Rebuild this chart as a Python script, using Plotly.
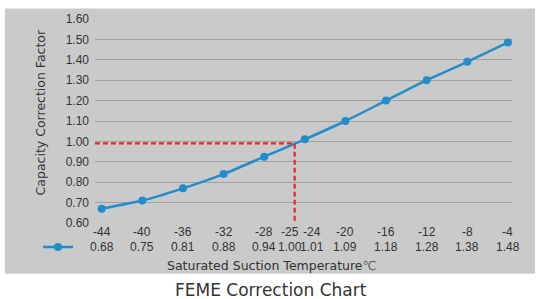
import plotly.graph_objects as go

# ---- data ----
temps = [-44, -40, -36, -32, -28, -24, -20, -16, -12, -8, -4]
curve_factor = [0.67, 0.71, 0.77, 0.84, 0.925, 1.01, 1.10, 1.20, 1.30, 1.39, 1.485]
table_temps = [-44, -40, -36, -32, -28, -25, -24, -20, -16, -12, -8, -4]
table_labels = ["-44", "-40", "-36", "-32", "-28", "-25", "-24", "-20", "-16", "-12", "-8", "-4"]
table_values = ["0.68", "0.75", "0.81", "0.88", "0.94", "1.00", "1.01", "1.09", "1.18", "1.28", "1.38", "1.48"]
ref_temp = -25
ref_factor = 0.99
y_ticks = [0.60, 0.70, 0.80, 0.90, 1.00, 1.10, 1.20, 1.30, 1.40, 1.50, 1.60]

X_RANGE = [-44.66, -3.6]
Y_RANGE = [0.60, 1.60]

BLUE = "#238dcc"
RED = "#e8262a"
BG = "#c9cac9"
GRID = "#a0a1a0"
TXT = "#333333"
FONT = "Liberation Sans, Arial, sans-serif"
WIDE = "DejaVu Sans, Verdana, sans-serif"

fig = go.Figure()

fig.add_trace(go.Scatter(
    x=temps, y=curve_factor, mode="lines+markers",
    line=dict(color=BLUE, width=2.5, shape="spline", smoothing=0.6),
    marker=dict(color=BLUE, size=8),
    name="", showlegend=True, hoverinfo="x+y",
))

# reference dashed lines
fig.add_trace(go.Scatter(
    x=[X_RANGE[0], ref_temp, ref_temp], y=[ref_factor, ref_factor, Y_RANGE[0]],
    mode="lines", line=dict(color=RED, width=2.2, dash="5px,3px"),
    showlegend=False, hoverinfo="skip", cliponaxis=False,
))

shapes = [dict(type="rect", xref="paper", yref="paper",
               x0=-0.216, x1=1.055, y0=-0.249, y1=1.052,
               fillcolor=BG, line=dict(width=0), layer="below")]

annotations = []
shift = {-25: -5, -24: 7}
for t, lab, val in zip(table_temps, table_labels, table_values):
    annotations.append(dict(x=t, y=-0.045, xref="x", yref="paper", text=lab,
                            showarrow=False, xshift=shift.get(t, 0),
                            font=dict(size=12, color=TXT, family=FONT),
                            xanchor="center", yanchor="middle"))
    annotations.append(dict(x=t, y=-0.118, xref="x", yref="paper", text=val,
                            showarrow=False, xshift=shift.get(t, 0),
                            font=dict(size=12, color=TXT, family=FONT),
                            xanchor="center", yanchor="middle"))

annotations.append(dict(x=(271.5 - 95) / 417, y=(222.7 - 266) / 206, xref="paper", yref="paper",
                        text="Saturated Suction Temperature<span style='color:#666'>℃</span>",
                        showarrow=False,
                        font=dict(size=12.5, color=TXT, family=WIDE),
                        xanchor="center", yanchor="middle"))
annotations.append(dict(x=(40 - 95) / 417, y=(222.7 - 111) / 206, xref="paper", yref="paper",
                        text="Capacity Correction Factor", showarrow=False, textangle=-90,
                        font=dict(size=12.5, color=TXT, family=WIDE),
                        xanchor="center", yanchor="middle"))
annotations.append(dict(x=(271 - 95) / 417, y=(222.7 - 290) / 206, xref="paper", yref="paper",
                        text="FEME Correction Chart", showarrow=False,
                        font=dict(size=17, color=TXT, family=WIDE),
                        xanchor="center", yanchor="middle"))

fig.update_layout(
    width=539, height=299,
    margin=dict(l=95, r=27, t=16.7, b=76.3, pad=0),
    paper_bgcolor="white", plot_bgcolor="rgba(0,0,0,0)",
    font=dict(family=FONT, color=TXT, size=12),
    shapes=shapes, annotations=annotations,
    showlegend=True,
    legend=dict(x=(38 - 95) / 417, y=(222.7 - 247) / 206, xanchor="left", yanchor="middle",
                bgcolor="rgba(0,0,0,0)", itemwidth=30, borderwidth=0,
                font=dict(size=1)),
    xaxis=dict(range=X_RANGE, showgrid=False, zeroline=False, showticklabels=False,
               showline=False, ticks="", fixedrange=True),
    yaxis=dict(range=Y_RANGE, tickvals=y_ticks, tickformat=".2f",
               showgrid=True, gridcolor=GRID, gridwidth=1.3, zeroline=False,
               showline=False, ticks="", ticklabelstandoff=5,
               tickfont=dict(size=12, color=TXT, family=FONT), fixedrange=True),
)

fig.write_html("out.html", config={"displayModeBar": False},
               post_script="document.body.style.margin='0';document.body.style.overflow='hidden';")
